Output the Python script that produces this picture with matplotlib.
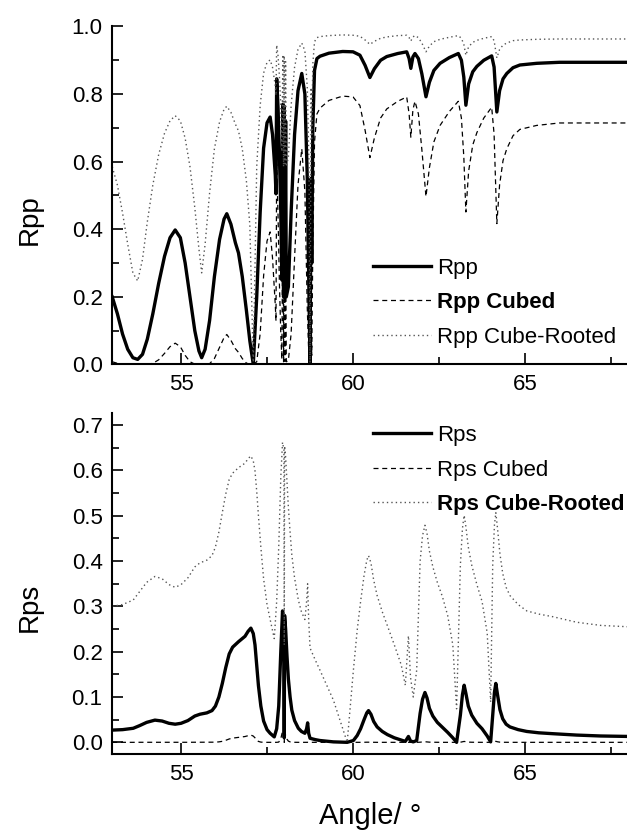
import matplotlib
matplotlib.use('Agg')
import matplotlib.pyplot as plt
from matplotlib.ticker import MultipleLocator

plt.rcParams['font.family'] = ['Liberation Sans', 'DejaVu Sans']

# top panel: p-polarised reflectance, its cube and its cube root
angle_pp = [53.00, 53.15, 53.30, 53.45, 53.60, 53.74, 53.88, 54.02, 54.18, 54.35,
            54.52, 54.68, 54.83, 54.98, 55.12, 55.26, 55.40, 55.52, 55.60, 55.70,
            55.83, 55.97, 56.12, 56.25, 56.33, 56.45, 56.58, 56.67, 56.78, 56.90,
            57.00, 57.10, 57.20, 57.30, 57.40, 57.50, 57.59, 57.66, 57.74, 57.76,
            57.78, 57.82, 57.86, 57.90, 57.93, 57.96, 57.98, 58.00, 58.02, 58.04,
            58.06, 58.12, 58.20, 58.30, 58.40, 58.51, 58.60, 58.67, 58.72, 58.75,
            58.78, 58.80, 58.83, 58.88, 58.95, 59.04, 59.30, 59.70, 60.00, 60.20,
            60.35, 60.49, 60.62, 60.80, 60.98, 61.30, 61.56, 61.63, 61.68, 61.74,
            61.80, 61.90, 62.00, 62.12, 62.22, 62.35, 62.53, 62.80, 63.06, 63.15,
            63.22, 63.28, 63.36, 63.48, 63.60, 63.80, 64.03, 64.10, 64.18, 64.26,
            64.36, 64.47, 64.65, 64.85, 65.34, 66.00, 67.00, 68.00]

rpp = [0.200, 0.150, 0.090, 0.045, 0.020, 0.015, 0.030, 0.075, 0.150, 0.240,
       0.320, 0.375, 0.398, 0.375, 0.300, 0.200, 0.100, 0.040, 0.020, 0.045,
       0.130, 0.260, 0.370, 0.430, 0.446, 0.415, 0.360, 0.330, 0.260, 0.160,
       0.070, 0.000, 0.200, 0.450, 0.640, 0.715, 0.732, 0.680, 0.560, 0.505,
       0.845, 0.760, 0.620, 0.450, 0.250, 0.770, 0.200, 0.760, 0.210, 0.720,
       0.200, 0.230, 0.450, 0.680, 0.810, 0.861, 0.800, 0.550, 0.200, 0.000,
       0.550, 0.300, 0.700, 0.870, 0.905, 0.912, 0.921, 0.926, 0.925, 0.915,
       0.885, 0.849, 0.875, 0.900, 0.911, 0.920, 0.925, 0.905, 0.876, 0.910,
       0.920, 0.905, 0.860, 0.792, 0.835, 0.870, 0.891, 0.908, 0.920, 0.900,
       0.850, 0.767, 0.830, 0.866, 0.882, 0.900, 0.913, 0.880, 0.747, 0.810,
       0.845, 0.861, 0.878, 0.886, 0.891, 0.894, 0.894, 0.894]

rpp_cubed = [0.0080, 0.0034, 0.0007, 0.0001, 0.0000, 0.0000, 0.0000, 0.0004, 0.0034, 0.0138,
             0.0328, 0.0527, 0.0630, 0.0527, 0.0270, 0.0080, 0.0010, 0.0001, 0.0000, 0.0001,
             0.0022, 0.0176, 0.0507, 0.0795, 0.0887, 0.0715, 0.0467, 0.0359, 0.0176, 0.0041,
             0.0003, 0.0000, 0.0080, 0.0911, 0.2621, 0.3655, 0.3922, 0.3144, 0.1756, 0.1288,
             0.6034, 0.4390, 0.2383, 0.0911, 0.0156, 0.4565, 0.0080, 0.4390, 0.0093, 0.3732,
             0.0080, 0.0122, 0.0911, 0.3144, 0.5314, 0.6383, 0.5120, 0.1664, 0.0080, 0.0000,
             0.1664, 0.0270, 0.3430, 0.6585, 0.7412, 0.7585, 0.7812, 0.7940, 0.7915, 0.7660,
             0.6932, 0.6120, 0.6699, 0.7290, 0.7560, 0.7787, 0.7915, 0.7412, 0.6722, 0.7536,
             0.7787, 0.7412, 0.6361, 0.4968, 0.5822, 0.6585, 0.7073, 0.7486, 0.7787, 0.7290,
             0.6141, 0.4512, 0.5718, 0.6495, 0.6861, 0.7290, 0.7610, 0.6815, 0.4168, 0.5314,
             0.6034, 0.6383, 0.6768, 0.6955, 0.7073, 0.7145, 0.7145, 0.7145]

rpp_cbrt = [0.585, 0.531, 0.448, 0.356, 0.271, 0.247, 0.311, 0.422, 0.531, 0.621,
            0.684, 0.721, 0.736, 0.721, 0.669, 0.585, 0.464, 0.342, 0.271, 0.356,
            0.507, 0.638, 0.718, 0.755, 0.764, 0.746, 0.711, 0.691, 0.638, 0.543,
            0.412, 0.000, 0.585, 0.766, 0.862, 0.894, 0.901, 0.879, 0.824, 0.796,
            0.945, 0.913, 0.853, 0.766, 0.630, 0.917, 0.585, 0.913, 0.594, 0.896,
            0.585, 0.613, 0.766, 0.879, 0.932, 0.951, 0.928, 0.819, 0.585, 0.000,
            0.819, 0.669, 0.888, 0.955, 0.967, 0.970, 0.973, 0.975, 0.974, 0.971,
            0.960, 0.947, 0.956, 0.965, 0.969, 0.973, 0.974, 0.967, 0.957, 0.969,
            0.973, 0.967, 0.951, 0.925, 0.942, 0.955, 0.962, 0.968, 0.973, 0.965,
            0.947, 0.915, 0.940, 0.953, 0.959, 0.965, 0.970, 0.958, 0.907, 0.932,
            0.945, 0.951, 0.958, 0.960, 0.962, 0.963, 0.963, 0.963]

# bottom panel: Rps, its cube and its cube root
angle_ps = [53.00, 53.30, 53.61, 53.80, 54.00, 54.24, 54.45, 54.65, 54.83, 55.00,
            55.20, 55.40, 55.55, 55.75, 55.90, 56.00, 56.10, 56.20, 56.30, 56.40,
            56.50, 56.67, 56.86, 56.95, 57.03, 57.10, 57.15, 57.20, 57.25, 57.32,
            57.40, 57.50, 57.59, 57.71, 57.78, 57.84, 57.90, 57.95, 57.99, 58.00,
            58.01, 58.04, 58.08, 58.12, 58.17, 58.22, 58.30, 58.41, 58.50, 58.60,
            58.65, 58.68, 58.71, 58.75, 58.90, 59.04, 59.43, 59.83, 60.01, 60.12,
            60.22, 60.32, 60.40, 60.45, 60.52, 60.60, 60.70, 60.85, 61.00, 61.20,
            61.40, 61.52, 61.61, 61.67, 61.75, 61.85, 61.95, 62.02, 62.09, 62.15,
            62.22, 62.32, 62.45, 62.60, 62.75, 62.90, 63.01, 63.12, 63.18, 63.23,
            63.28, 63.35, 63.45, 63.60, 63.75, 63.90, 64.00, 64.06, 64.11, 64.15,
            64.20, 64.27, 64.35, 64.45, 64.56, 64.80, 65.05, 65.40, 65.82, 66.50,
            67.20, 68.00]

rps = [0.027, 0.028, 0.031, 0.037, 0.044, 0.049, 0.047, 0.042, 0.040, 0.042,
       0.048, 0.058, 0.062, 0.065, 0.070, 0.080, 0.100, 0.130, 0.165, 0.195,
       0.210, 0.222, 0.234, 0.245, 0.252, 0.240, 0.215, 0.170, 0.125, 0.080,
       0.047, 0.028, 0.020, 0.012, 0.030, 0.080, 0.200, 0.290, 0.270, 0.010,
       0.280, 0.250, 0.190, 0.140, 0.100, 0.071, 0.048, 0.031, 0.024, 0.020,
       0.030, 0.043, 0.020, 0.009, 0.006, 0.004, 0.001, 0.000, 0.004, 0.015,
       0.030, 0.050, 0.065, 0.070, 0.062, 0.046, 0.034, 0.024, 0.017, 0.010,
       0.005, 0.002, 0.013, 0.003, 0.001, 0.004, 0.064, 0.095, 0.110, 0.098,
       0.075, 0.058, 0.044, 0.033, 0.022, 0.010, 0.000, 0.060, 0.105, 0.126,
       0.108, 0.080, 0.060, 0.042, 0.030, 0.014, 0.001, 0.060, 0.110, 0.130,
       0.105, 0.072, 0.052, 0.040, 0.034, 0.028, 0.024, 0.021, 0.019, 0.016,
       0.014, 0.013]

rps_cubed = [0.0000, 0.0000, 0.0000, 0.0001, 0.0001, 0.0001, 0.0001, 0.0001, 0.0001, 0.0001,
             0.0001, 0.0002, 0.0002, 0.0003, 0.0003, 0.0005, 0.0010, 0.0022, 0.0045, 0.0074,
             0.0093, 0.0109, 0.0128, 0.0147, 0.0160, 0.0138, 0.0099, 0.0049, 0.0020, 0.0005,
             0.0001, 0.0000, 0.0000, 0.0000, 0.0000, 0.0005, 0.0080, 0.0244, 0.0197, 0.0000,
             0.0220, 0.0156, 0.0069, 0.0027, 0.0010, 0.0004, 0.0001, 0.0000, 0.0000, 0.0000,
             0.0000, 0.0001, 0.0000, 0.0000, 0.0000, 0.0000, 0.0000, 0.0000, 0.0000, 0.0000,
             0.0000, 0.0001, 0.0003, 0.0003, 0.0002, 0.0001, 0.0000, 0.0000, 0.0000, 0.0000,
             0.0000, 0.0000, 0.0000, 0.0000, 0.0000, 0.0000, 0.0003, 0.0009, 0.0013, 0.0009,
             0.0004, 0.0002, 0.0001, 0.0000, 0.0000, 0.0000, 0.0000, 0.0002, 0.0012, 0.0020,
             0.0013, 0.0005, 0.0002, 0.0001, 0.0000, 0.0000, 0.0000, 0.0002, 0.0013, 0.0022,
             0.0012, 0.0004, 0.0001, 0.0001, 0.0000, 0.0000, 0.0000, 0.0000, 0.0000, 0.0000,
             0.0000, 0.0000]

rps_cbrt = [0.300, 0.304, 0.314, 0.333, 0.353, 0.366, 0.361, 0.348, 0.342, 0.348,
            0.363, 0.387, 0.396, 0.402, 0.412, 0.431, 0.464, 0.507, 0.548, 0.580,
            0.594, 0.606, 0.616, 0.626, 0.632, 0.621, 0.599, 0.554, 0.500, 0.431,
            0.361, 0.304, 0.271, 0.229, 0.311, 0.431, 0.585, 0.662, 0.646, 0.215,
            0.654, 0.630, 0.575, 0.519, 0.464, 0.414, 0.363, 0.314, 0.288, 0.271,
            0.311, 0.350, 0.271, 0.208, 0.182, 0.159, 0.093, 0.000, 0.159, 0.247,
            0.311, 0.368, 0.402, 0.412, 0.396, 0.358, 0.324, 0.288, 0.257, 0.215,
            0.171, 0.126, 0.235, 0.144, 0.100, 0.159, 0.400, 0.456, 0.479, 0.461,
            0.422, 0.387, 0.353, 0.321, 0.280, 0.215, 0.074, 0.391, 0.472, 0.501,
            0.476, 0.431, 0.391, 0.348, 0.311, 0.241, 0.089, 0.391, 0.479, 0.507,
            0.472, 0.416, 0.373, 0.342, 0.324, 0.304, 0.290, 0.283, 0.277, 0.265,
            0.258, 0.255]

solid = dict(color='black', lw=2.4)
dashed = dict(color='black', lw=0.9, dashes=(4, 3))
dotted = dict(color='#555555', lw=1.0, dashes=(1, 2.2))


def style_axes(ax, major_step, minor_step):
    for side in ('top', 'right'):
        ax.spines[side].set_visible(False)
    for side in ('left', 'bottom'):
        ax.spines[side].set_linewidth(1.5)
    ax.xaxis.set_major_locator(MultipleLocator(5))
    ax.xaxis.set_minor_locator(MultipleLocator(2.5))
    ax.yaxis.set_major_locator(MultipleLocator(major_step))
    ax.yaxis.set_minor_locator(MultipleLocator(minor_step))
    ax.tick_params(which='major', direction='in', length=8, width=1.2,
                   labelsize=16, pad=7)
    ax.tick_params(which='minor', direction='in', length=5, width=1.2)
    ax.set_xlim(53, 68)


fig = plt.figure(figsize=(6.27, 8.35), dpi=100)
ax1 = fig.add_axes([0.179, 0.5635, 0.823, 0.4048])
ax2 = fig.add_axes([0.179, 0.0966, 0.823, 0.4084])

ax1.plot(angle_pp, rpp, label='Rpp', **solid)
ax1.plot(angle_pp, rpp_cubed, label='Rpp Cubed', **dashed)
ax1.plot(angle_pp, rpp_cbrt, label='Rpp Cube-Rooted', **dotted)
style_axes(ax1, 0.2, 0.1)
ax1.set_ylim(0, 1.0)
ax1.set_ylabel('Rpp', fontsize=20)
ax1.yaxis.set_label_coords(-0.134, 0.43)
leg1 = ax1.legend(loc='lower left', bbox_to_anchor=(0.506, 0.05), frameon=False,
                  fontsize=16, handlelength=2.6, handletextpad=0.25,
                  labelspacing=0.6, borderpad=0, borderaxespad=0)
leg1.get_texts()[1].set_fontweight('bold')

ax2.plot(angle_ps, rps, label='Rps', **solid)
ax2.plot(angle_ps, rps_cubed, label='Rps Cubed', **dashed)
ax2.plot(angle_ps, rps_cbrt, label='Rps Cube-Rooted', **dotted)
style_axes(ax2, 0.1, 0.05)
ax2.set_ylim(-0.0265, 0.726)
ax2.set_ylabel('Rps', fontsize=20)
ax2.yaxis.set_label_coords(-0.134, 0.43)
ax2.set_xlabel('Angle/ °', fontsize=21, labelpad=12)
leg2 = ax2.legend(loc='upper left', bbox_to_anchor=(0.506, 0.965), frameon=False,
                  fontsize=16, handlelength=2.6, handletextpad=0.25,
                  labelspacing=0.6, borderpad=0, borderaxespad=0)
leg2.get_texts()[2].set_fontweight('bold')

fig.savefig('out.png', dpi=100)
